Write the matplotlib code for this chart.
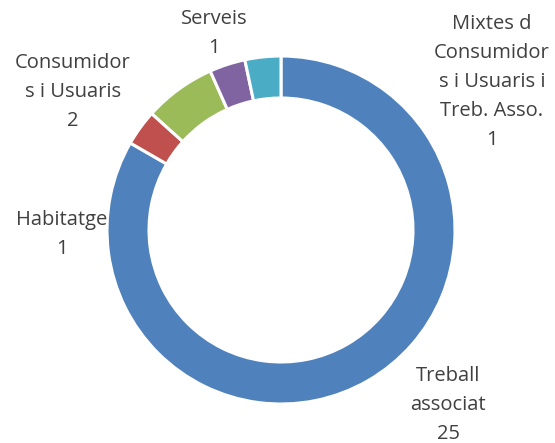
import matplotlib.pyplot as plt

# Data
categories = ["Treball\nassociat", "Habitatge", "Consumidor\ns i Usuaris",
              "Serveis", "Mixtes d\nConsumidor\ns i Usuaris i\nTreb. Asso."]
values = [25, 1, 2, 1, 1]
colors = ["#4F81BD", "#C0504D", "#9BBB59", "#8064A2", "#4BACC6"]

# Label anchor positions (pixels from top-left), Excel's own placement
label_pos = [(448, 405), (62, 234), (73, 92), (214, 33), (492, 82)]

W, H = 555, 443
fig = plt.figure(figsize=(W / 100, H / 100), dpi=100)
ax = fig.add_axes([0, 0, 1, 1])

cx, cy, r = 281, H - 230, 174
ax.pie(values, colors=colors, startangle=90, counterclock=False,
       center=(cx, cy), radius=r, frame=True,
       wedgeprops=dict(width=42, edgecolor="white", linewidth=2.2))
ax.set_xlim(0, W)
ax.set_ylim(0, H)
ax.set_aspect("equal")
ax.axis("off")

for name, val, (x, y) in zip(categories, values, label_pos):
    ax.text(x, H - y, f"{name}\n{val}", ha="center", va="center",
            fontsize=14.5, family="Open Sans", color="#404040", linespacing=1.6)

fig.savefig("out.png", dpi=100)
